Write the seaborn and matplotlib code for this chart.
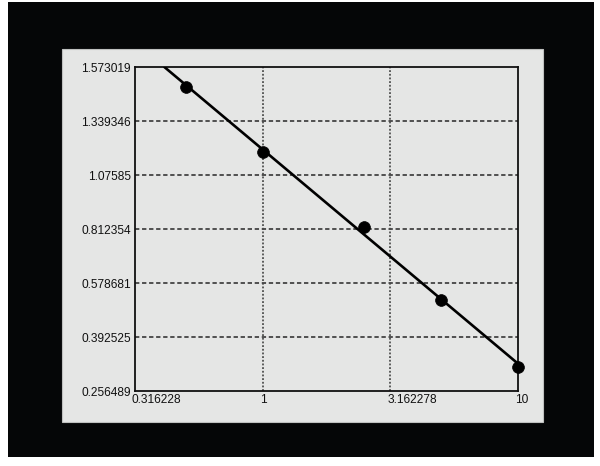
import numpy as np
import pandas as pd
import matplotlib
matplotlib.use("Agg")
import matplotlib.pyplot as plt
import matplotlib.transforms as mtransforms
from matplotlib.patches import Rectangle
import seaborn as sns

# ---- data ----
conc = [0.5, 1.0, 2.5, 5.0, 10.0]
od = [1.4877, 1.1894, 0.8237, 0.5200, 0.3177]
y_ticks = [0.256489, 0.392525, 0.578681, 0.812354, 1.07585, 1.339346, 1.573019]
y_tick_labels = ["0.256489", "0.392525", "0.578681", "0.812354", "1.07585", "1.339346", "1.573019"]
x_ticks = [0.316228, 1, 3.162278, 10]
x_tick_labels = ["0.316228", "1", "3.162278", "10"]

sns.set_style("white")
plt.rcParams["font.family"] = ["Liberation Sans", "DejaVu Sans"]

yt = np.array(y_ticks)
pos = np.arange(len(yt), dtype=float)


def fwd(v):
    v = np.asarray(v, dtype=float)
    out = np.interp(v, yt, pos)
    lo = v < yt[0]
    hi = v > yt[-1]
    out = np.where(lo, (v - yt[0]) / (yt[1] - yt[0]), out)
    out = np.where(hi, pos[-1] + (v - yt[-1]) / (yt[-1] - yt[-2]), out)
    return out


def inv(p):
    p = np.asarray(p, dtype=float)
    out = np.interp(p, pos, yt)
    out = np.where(p < 0, yt[0] + p * (yt[1] - yt[0]), out)
    out = np.where(p > pos[-1], yt[-1] + (p - pos[-1]) * (yt[-1] - yt[-2]), out)
    return out


fig = plt.figure(figsize=(6.0, 4.66), dpi=100)
fig.patch.set_facecolor("white")
fig.patches.append(Rectangle((0.0133, 0.0193), 0.9767, 0.9764, transform=fig.transFigure,
                             facecolor="#050607", edgecolor="none", zorder=-2))
fig.patches.append(Rectangle((0.1033, 0.0944), 0.8017, 0.8004, transform=fig.transFigure,
                             facecolor="#e5e6e5", edgecolor="#bfc0bf", linewidth=0.8, zorder=-1))

ax = fig.add_axes([0.225, 0.1609, 0.6383, 0.6953])
ax.set_zorder(2)
ax.set_facecolor("#e5e6e5")
ax.set_xscale("log")
ax.set_yscale("function", functions=(fwd, inv))
ax.set_xlim(x_ticks[0], x_ticks[-1])
ax.set_ylim(y_ticks[0], y_ticks[-1])

# fitted line in transformed space
lx = np.log10(np.array(conc))
py = fwd(np.array(od))
m, b = np.polyfit(lx, py, 1)
x_start = (pos[-1] - b) / m
xs = np.linspace(x_start, lx[-1], 200)
line_df = pd.DataFrame({"x": 10 ** xs, "y": inv(m * xs + b)})
sns.lineplot(data=line_df, x="x", y="y", ax=ax, color="black", linewidth=1.9, zorder=3)

pts = pd.DataFrame({"x": conc, "y": od})
sns.scatterplot(data=pts, x="x", y="y", ax=ax, color="black", s=72, marker="o",
                edgecolor="black", linewidth=0.5, zorder=4, clip_on=False)

# grid
for yv in y_ticks[1:-1]:
    ax.axhline(yv, color="#444444", linestyle=(0, (2.4, 1.5)), linewidth=1.3, zorder=2)
for xv in x_ticks[1:-1]:
    ax.axvline(xv, color="#444444", linestyle=(0, (1.1, 1.1)), linewidth=1.2, zorder=2)

ax.set_xticks(x_ticks)
ax.set_xticklabels(x_tick_labels)
ax.set_yticks(y_ticks)
ax.set_yticklabels(y_tick_labels)
ax.xaxis.set_minor_locator(matplotlib.ticker.NullLocator())
ax.yaxis.set_minor_locator(matplotlib.ticker.NullLocator())
ax.tick_params(axis="both", length=0, labelsize=8.6, labelcolor="#111111")
ax.tick_params(axis="y", pad=3)
ax.tick_params(axis="x", pad=2)
offset = mtransforms.ScaledTranslation(-3 / 100, 0, fig.dpi_scale_trans)
for lab in ax.get_xticklabels():
    lab.set_horizontalalignment("left")
    lab.set_transform(lab.get_transform() + offset)
ax.set_xlabel("")
ax.set_ylabel("")

for sp in ax.spines.values():
    sp.set_color("#111111")
    sp.set_linewidth(1.3)
    sp.set_visible(True)

fig.savefig("out.png", dpi=100)
